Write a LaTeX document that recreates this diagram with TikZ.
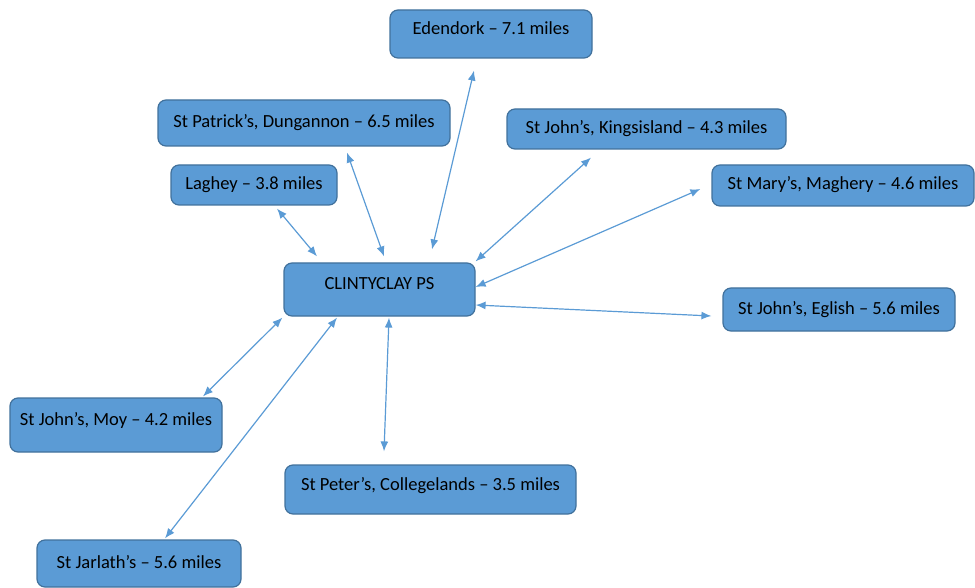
\documentclass[tikz,border=0pt]{standalone}
\usepackage{fontspec}
\setmainfont{Carlito}
\usetikzlibrary{arrows.meta}
\definecolor{boxfill}{HTML}{5B9BD5}
\definecolor{boxline}{HTML}{41719C}
\tikzset{
  school/.style={draw=boxline, fill=boxfill, line width=1.2pt, rounded corners=8pt,
    inner sep=0pt, text height=13pt, text depth=4pt, font=\fontsize{18.5}{22}\selectfont},
  raised/.style={text depth=12pt},
  link/.style={draw=boxfill, line width=1.2pt,
    {Latex[length=10pt,width=8pt]}-{Latex[length=10pt,width=8pt]}}
}
\begin{document}
\begin{tikzpicture}[x=1pt,y=-1pt]
   \useasboundingbox (0,0) rectangle (975,588);
   % schools round the centre
   \node[school, raised, minimum width=202pt, minimum height=48pt] (eden) at (491,34) {Edendork -- 7.1 miles};
   \node[school, minimum width=292pt, minimum height=46pt] (patrick) at (304,123) {St Patrick’s, Dungannon -- 6.5 miles};
   \node[school, minimum width=279pt, minimum height=40pt] (kings) at (646.5,129) {St John’s, Kingsisland -- 4.3 miles};
   \node[school, minimum width=166pt, minimum height=40pt] (laghey) at (254,185) {Laghey -- 3.8 miles};
   \node[school, minimum width=262pt, minimum height=41pt] (mary) at (843,185.5) {St Mary’s, Maghery -- 4.6 miles};
   \node[school, raised, minimum width=191pt, minimum height=53pt] (clint) at (379.5,289.5) {CLINTYCLAY PS};
   \node[school, minimum width=232pt, minimum height=43pt] (eglish) at (839,309.5) {St John’s, Eglish -- 5.6 miles};
   \node[school, raised, minimum width=212pt, minimum height=54pt] (moy) at (116,425) {St John’s, Moy -- 4.2 miles};
   \node[school, raised, minimum width=291pt, minimum height=49pt] (peter) at (430.5,489.5) {St Peter’s, Collegelands -- 3.5 miles};
   \node[school, minimum width=204pt, minimum height=47pt] (jarlath) at (139,563.5) {St Jarlath’s -- 5.6 miles};
   % links
   \draw[link] ([shift={(-17,12)}]eden.south) -- ([shift={(52.5,-13)}]clint.north);
   \draw[link] ([shift={(43,6)}]patrick.south) -- ([shift={(4.5,-6)}]clint.north);
   \draw[link] ([shift={(23,3)}]laghey.south) -- ([shift={(-62.5,-6)}]clint.north);
   \draw[link] ([shift={(-55.5,8)}]kings.south) -- ([shift={(0,-1)}]clint.north east);
   \draw[link] ([shift={(-11,3.5)}]mary.west) -- ([shift={(0,-2.5)}]clint.east);
   \draw[link] ([shift={(0,15.5)}]clint.east) -- ([shift={(-11,6.5)}]eglish.west);
   \draw[link] ([shift={(-1,1)}]clint.south west) -- ([shift={(87,-1)}]moy.north);
   \draw[link] ([shift={(9.5,1)}]clint.south) -- ([shift={(-46.5,-13)}]peter.north);
   \draw[link] ([shift={(-42.5,1)}]clint.south) -- ([shift={(26,-1)}]jarlath.north);
 \end{tikzpicture}
\end{document}
